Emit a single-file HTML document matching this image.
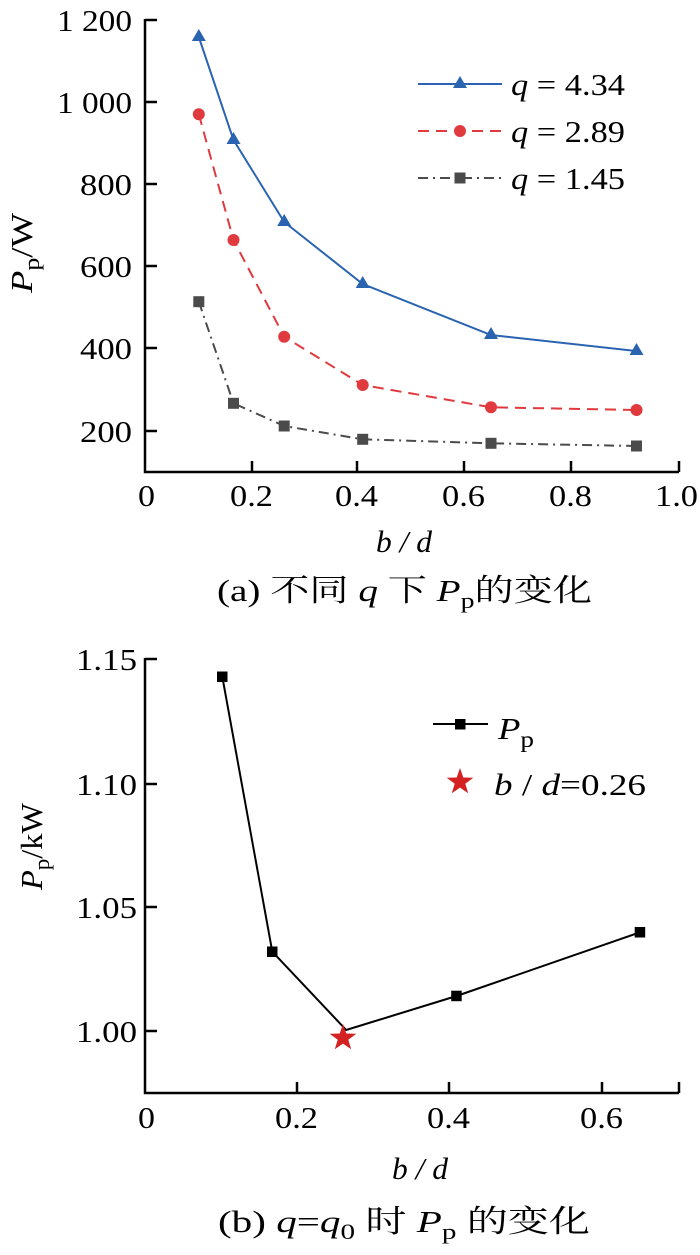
<!DOCTYPE html>
<html><head><meta charset="utf-8"><style>
html,body{margin:0;padding:0;background:#fff;}
svg{display:block;}
text{font-family:"Liberation Serif","Noto Serif CJK SC",serif;font-size:31px;fill:#000;}
.it{font-style:italic;}
</style></head><body>
<svg width="700" height="1255" viewBox="0 0 700 1255" xmlns="http://www.w3.org/2000/svg">
<!-- Chart A -->
<g stroke="#000" stroke-width="2.5" fill="none">
<polyline points="145,19 145,472 679,472"/>
<line x1="145" y1="20" x2="157" y2="20"/>
<line x1="145" y1="102" x2="157" y2="102"/>
<line x1="145" y1="184" x2="157" y2="184"/>
<line x1="145" y1="266" x2="157" y2="266"/>
<line x1="145" y1="348" x2="157" y2="348"/>
<line x1="145" y1="431" x2="157" y2="431"/>
<line x1="252" y1="472" x2="252" y2="461"/>
<line x1="357" y1="472" x2="357" y2="461"/>
<line x1="464" y1="472" x2="464" y2="461"/>
<line x1="571" y1="472" x2="571" y2="461"/>
<line x1="679" y1="472" x2="679" y2="461"/>
</g>
<text x="57" y="31" textLength="75" lengthAdjust="spacingAndGlyphs">1 200</text>
<text x="57" y="113" textLength="75" lengthAdjust="spacingAndGlyphs">1 000</text>
<text x="80" y="195" textLength="52" lengthAdjust="spacingAndGlyphs">800</text>
<text x="80" y="277" textLength="52" lengthAdjust="spacingAndGlyphs">600</text>
<text x="80" y="359" textLength="52" lengthAdjust="spacingAndGlyphs">400</text>
<text x="80" y="442" textLength="52" lengthAdjust="spacingAndGlyphs">200</text>
<text x="138" y="506" textLength="17" lengthAdjust="spacingAndGlyphs">0</text>
<text x="230" y="506" textLength="43" lengthAdjust="spacingAndGlyphs">0.2</text>
<text x="335" y="506" textLength="43" lengthAdjust="spacingAndGlyphs">0.4</text>
<text x="442" y="506" textLength="43" lengthAdjust="spacingAndGlyphs">0.6</text>
<text x="549" y="506" textLength="43" lengthAdjust="spacingAndGlyphs">0.8</text>
<text x="655" y="506" textLength="43" lengthAdjust="spacingAndGlyphs">1.0</text>
<text x="376" y="552" class="it" textLength="56" lengthAdjust="spacingAndGlyphs">b / d</text>
<text x="32" y="293" transform="rotate(-90 32 293)" textLength="80" lengthAdjust="spacingAndGlyphs"><tspan class="it">P</tspan><tspan font-size="22" dy="7">p</tspan><tspan dy="-7">/W</tspan></text>
<text x="217" y="601" font-size="32" textLength="375" lengthAdjust="spacingAndGlyphs">(a) 不同 <tspan class="it">q</tspan> 下 <tspan class="it">P</tspan><tspan font-size="22" dy="7">p</tspan><tspan dy="-7">的变化</tspan></text>

<!-- series -->
<polyline fill="none" stroke="#4b4b4b" stroke-width="2" stroke-dasharray="10,5,2,5" points="198.8,301.7 233.5,403.3 284.2,426 362.7,439.3 491,443.3 636.5,446"/>
<polyline fill="none" stroke="#e03a3e" stroke-width="2" stroke-dasharray="11,7" points="198.8,114.3 233.5,240 284.2,336.7 362.7,385 491,407.3 636.5,410"/>
<polyline fill="none" stroke="#2a63b0" stroke-width="2" points="198.8,37 233.5,140 284.2,222 362.7,284 491,335 636.5,351"/>
<g fill="#4b4b4b">
<rect x="193.3" y="296.2" width="11" height="11"/><rect x="228" y="397.8" width="11" height="11"/><rect x="278.7" y="420.5" width="11" height="11"/><rect x="357.2" y="433.8" width="11" height="11"/><rect x="485.5" y="437.8" width="11" height="11"/><rect x="631" y="440.5" width="11" height="11"/>
<rect x="454.5" y="172.5" width="11" height="11"/>
</g>
<g fill="#e03a3e">
<circle cx="198.8" cy="114.3" r="6"/><circle cx="233.5" cy="240" r="6"/><circle cx="284.2" cy="336.7" r="6"/><circle cx="362.7" cy="385" r="6"/><circle cx="491" cy="407.3" r="6"/><circle cx="636.5" cy="410" r="6"/>
<circle cx="460" cy="131" r="6"/>
</g>
<g fill="#2a63b0">
<path d="M198.8,29 l7,12 h-14z"/><path d="M233.5,132 l7,12 h-14z"/><path d="M284.2,214 l7,12 h-14z"/><path d="M362.7,276 l7,12 h-14z"/><path d="M491,327 l7,12 h-14z"/><path d="M636.5,343 l7,12 h-14z"/>
<path d="M460,76 l7,12 h-14z"/>
</g>
<line x1="418" y1="84" x2="502" y2="84" stroke="#2a63b0" stroke-width="2"/>
<line x1="418" y1="131" x2="502" y2="131" stroke="#e03a3e" stroke-width="2" stroke-dasharray="11,7"/>
<line x1="418" y1="178" x2="502" y2="178" stroke="#4b4b4b" stroke-width="2" stroke-dasharray="10,5,2,5"/>
<text x="511" y="95" font-size="33" textLength="114" lengthAdjust="spacingAndGlyphs"><tspan class="it">q</tspan> = 4.34</text>
<text x="511" y="142" font-size="33" textLength="114" lengthAdjust="spacingAndGlyphs"><tspan class="it">q</tspan> = 2.89</text>
<text x="511" y="189" font-size="33" textLength="114" lengthAdjust="spacingAndGlyphs"><tspan class="it">q</tspan> = 1.45</text>

<!-- Chart B -->
<g stroke="#000" stroke-width="2.5" fill="none">
<polyline points="145,658 145,1093 679,1093"/>
<line x1="145" y1="659" x2="157" y2="659"/>
<line x1="145" y1="784" x2="157" y2="784"/>
<line x1="145" y1="907" x2="157" y2="907"/>
<line x1="145" y1="1031" x2="157" y2="1031"/>
<line x1="297" y1="1093" x2="297" y2="1082"/>
<line x1="449" y1="1093" x2="449" y2="1082"/>
<line x1="602" y1="1093" x2="602" y2="1082"/>
<line x1="679" y1="1093" x2="679" y2="1082"/>
</g>
<text x="76" y="670" textLength="61" lengthAdjust="spacingAndGlyphs">1.15</text>
<text x="76" y="795" textLength="61" lengthAdjust="spacingAndGlyphs">1.10</text>
<text x="76" y="918" textLength="61" lengthAdjust="spacingAndGlyphs">1.05</text>
<text x="76" y="1042" textLength="61" lengthAdjust="spacingAndGlyphs">1.00</text>
<text x="138" y="1128" textLength="17" lengthAdjust="spacingAndGlyphs">0</text>
<text x="275" y="1128" textLength="43" lengthAdjust="spacingAndGlyphs">0.2</text>
<text x="427" y="1128" textLength="43" lengthAdjust="spacingAndGlyphs">0.4</text>
<text x="580" y="1128" textLength="43" lengthAdjust="spacingAndGlyphs">0.6</text>
<text x="392" y="1179" class="it" textLength="56" lengthAdjust="spacingAndGlyphs">b / d</text>
<text x="42" y="890" transform="rotate(-90 42 890)" textLength="87" lengthAdjust="spacingAndGlyphs"><tspan class="it">P</tspan><tspan font-size="22" dy="7">p</tspan><tspan dy="-7">/kW</tspan></text>
<text x="218" y="1232" font-size="32" textLength="372" lengthAdjust="spacingAndGlyphs">(b) <tspan class="it">q</tspan>=<tspan class="it">q</tspan><tspan font-size="22" dy="7">0</tspan><tspan dy="-7"> 时 </tspan><tspan class="it">P</tspan><tspan font-size="22" dy="7">p</tspan><tspan dy="-7"> 的变化</tspan></text>

<polyline fill="none" stroke="#000" stroke-width="2" points="222.3,676.7 272.3,951.7 346.2,1030 456.5,996 640,932.3"/>
<g fill="#000">
<rect x="217" y="671.5" width="10.5" height="10.5"/><rect x="267" y="946.5" width="10.5" height="10.5"/><rect x="451.2" y="990.7" width="10.5" height="10.5"/><rect x="634.7" y="927" width="10.5" height="10.5"/>
<rect x="455" y="719" width="10.5" height="10.5"/>
</g>
<line x1="433" y1="724" x2="488" y2="724" stroke="#000" stroke-width="2"/>
<path fill="#d42222" d="M343,1024 L346.3,1033.5 L356.3,1033.7 L348.3,1039.7 L351.2,1049.3 L343,1043.6 L334.8,1049.3 L337.7,1039.7 L329.7,1033.7 L339.7,1033.5Z"/>
<path fill="#d42222" d="M460,768 L463.3,777.5 L473.3,777.7 L465.3,783.7 L468.2,793.3 L460,787.6 L451.8,793.3 L454.7,783.7 L446.7,777.7 L456.7,777.5Z"/>
<text x="498" y="739" font-size="33" textLength="36" lengthAdjust="spacingAndGlyphs"><tspan class="it">P</tspan><tspan font-size="23" dy="8">p</tspan></text>
<text x="494" y="795" font-size="33" textLength="152" lengthAdjust="spacingAndGlyphs"><tspan class="it">b</tspan> / <tspan class="it">d</tspan>=0.26</text>
</svg>
</body></html>
